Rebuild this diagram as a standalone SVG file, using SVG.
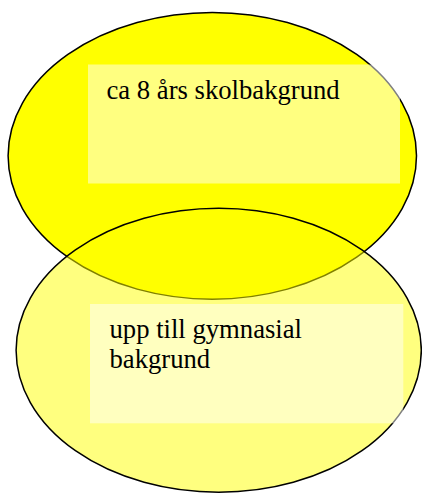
<svg xmlns="http://www.w3.org/2000/svg" width="422" height="494" viewBox="0 0 422 494">
<style>
.ell{stroke:#000;stroke-width:1.5}
.box{fill:#fff;fill-opacity:0.5}
.lbl{font-family:"Liberation Serif","Times New Roman",serif;font-size:26.67px;fill:#000}
</style>
<rect width="422" height="494" fill="#fff"/>
<g id="top">
<ellipse class="ell" cx="212.3" cy="155.8" rx="204.2" ry="143.4" fill="#ffff00"/>
<rect class="box" x="88" y="64.5" width="312" height="119"/>
<text class="lbl" x="106.5" y="99">ca 8 års skolbakgrund</text>
</g>
<g id="bottom">
<ellipse class="ell" cx="218.7" cy="350.3" rx="202.6" ry="142" fill="#ffff00" fill-opacity="0.5"/>
<rect class="box" x="90" y="304" width="313.3" height="119.3"/>
<text class="lbl" x="109.5" y="337.5">upp till gymnasial</text>
<text class="lbl" x="109.5" y="368.3">bakgrund</text>
</g>
<g id="connectors"/>
</svg>
